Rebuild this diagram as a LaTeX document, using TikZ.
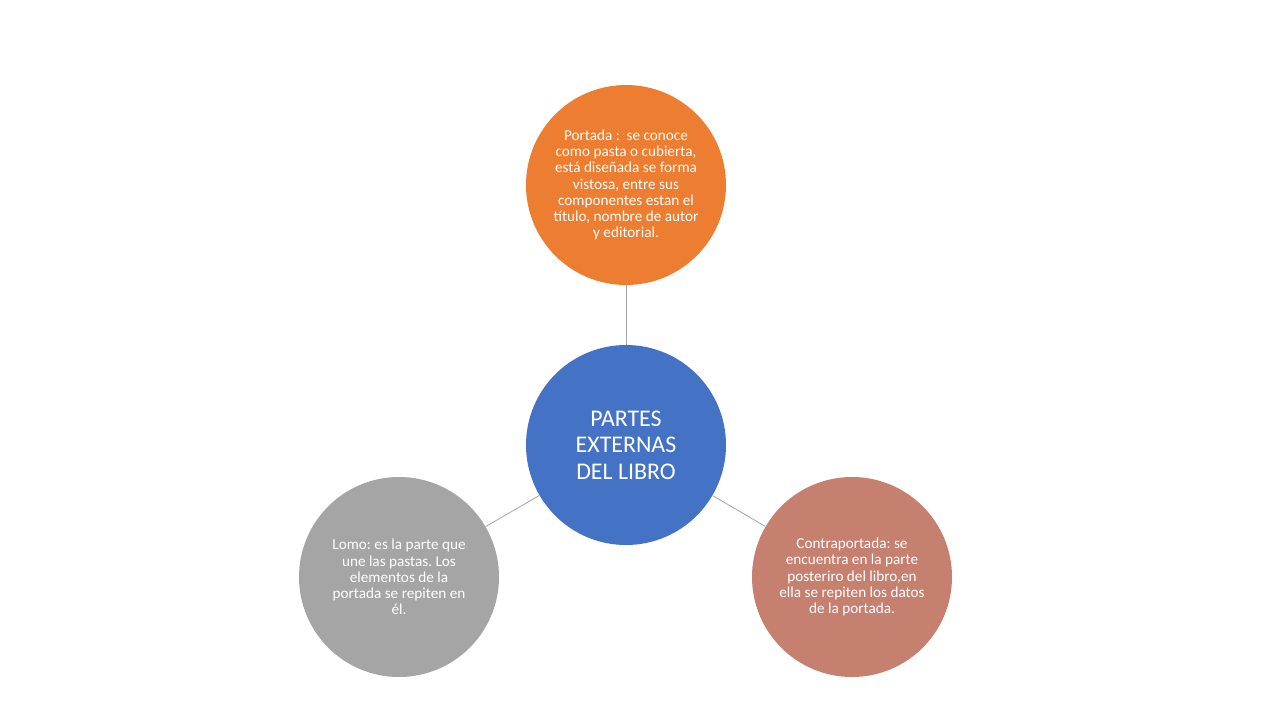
\documentclass[tikz,border=0pt]{standalone}
\usepackage{fontspec}
\setmainfont{Carlito}
\frenchspacing
\definecolor{cOrange}{HTML}{ED7D31}
\definecolor{cBlue}{HTML}{4472C4}
\definecolor{cGray}{HTML}{A5A5A5}
\definecolor{cRose}{HTML}{C5806F}
\definecolor{cLine}{HTML}{A5A5A5}
\begin{document}
\begin{tikzpicture}[x=1pt,y=-1pt,
  circ/.style={circle,minimum size=200pt,inner sep=0pt,text=white,align=center,
    font=\fontsize{15.2}{16.2}\selectfont\frenchspacing},
  link/.style={draw=cLine,line width=0.8pt}]
\useasboundingbox (0,0) rectangle (1280,720);
\fill[white] (0,0) rectangle (1280,720);
\node[circ,fill=cBlue,font=\fontsize{23.9}{26.5}\selectfont] (c) at (626,445) {PARTES\\EXTERNAS\\DEL LIBRO};
\node[circ,fill=cOrange] (t) at (626,185) {Portada :\ \ se conoce\\como pasta o cubierta,\\está diseñada se forma\\vistosa, entre sus\\componentes estan el\\título, nombre de autor\\y editorial.};
\node[circ,fill=cGray] (l) at (399,577) {Lomo: es la parte que\\une las pastas. Los\\elementos de la\\portada se repiten en\\él.};
\node[circ,fill=cRose] (r) at (852,577) {Contraportada: se\\encuentra en la parte\\posteriro del libro,en\\ella se repiten los datos\\de la portada.};
\draw[link] (c) -- (t);
\draw[link] (c) -- (l);
\draw[link] (c) -- (r);
\end{tikzpicture}
\end{document}
